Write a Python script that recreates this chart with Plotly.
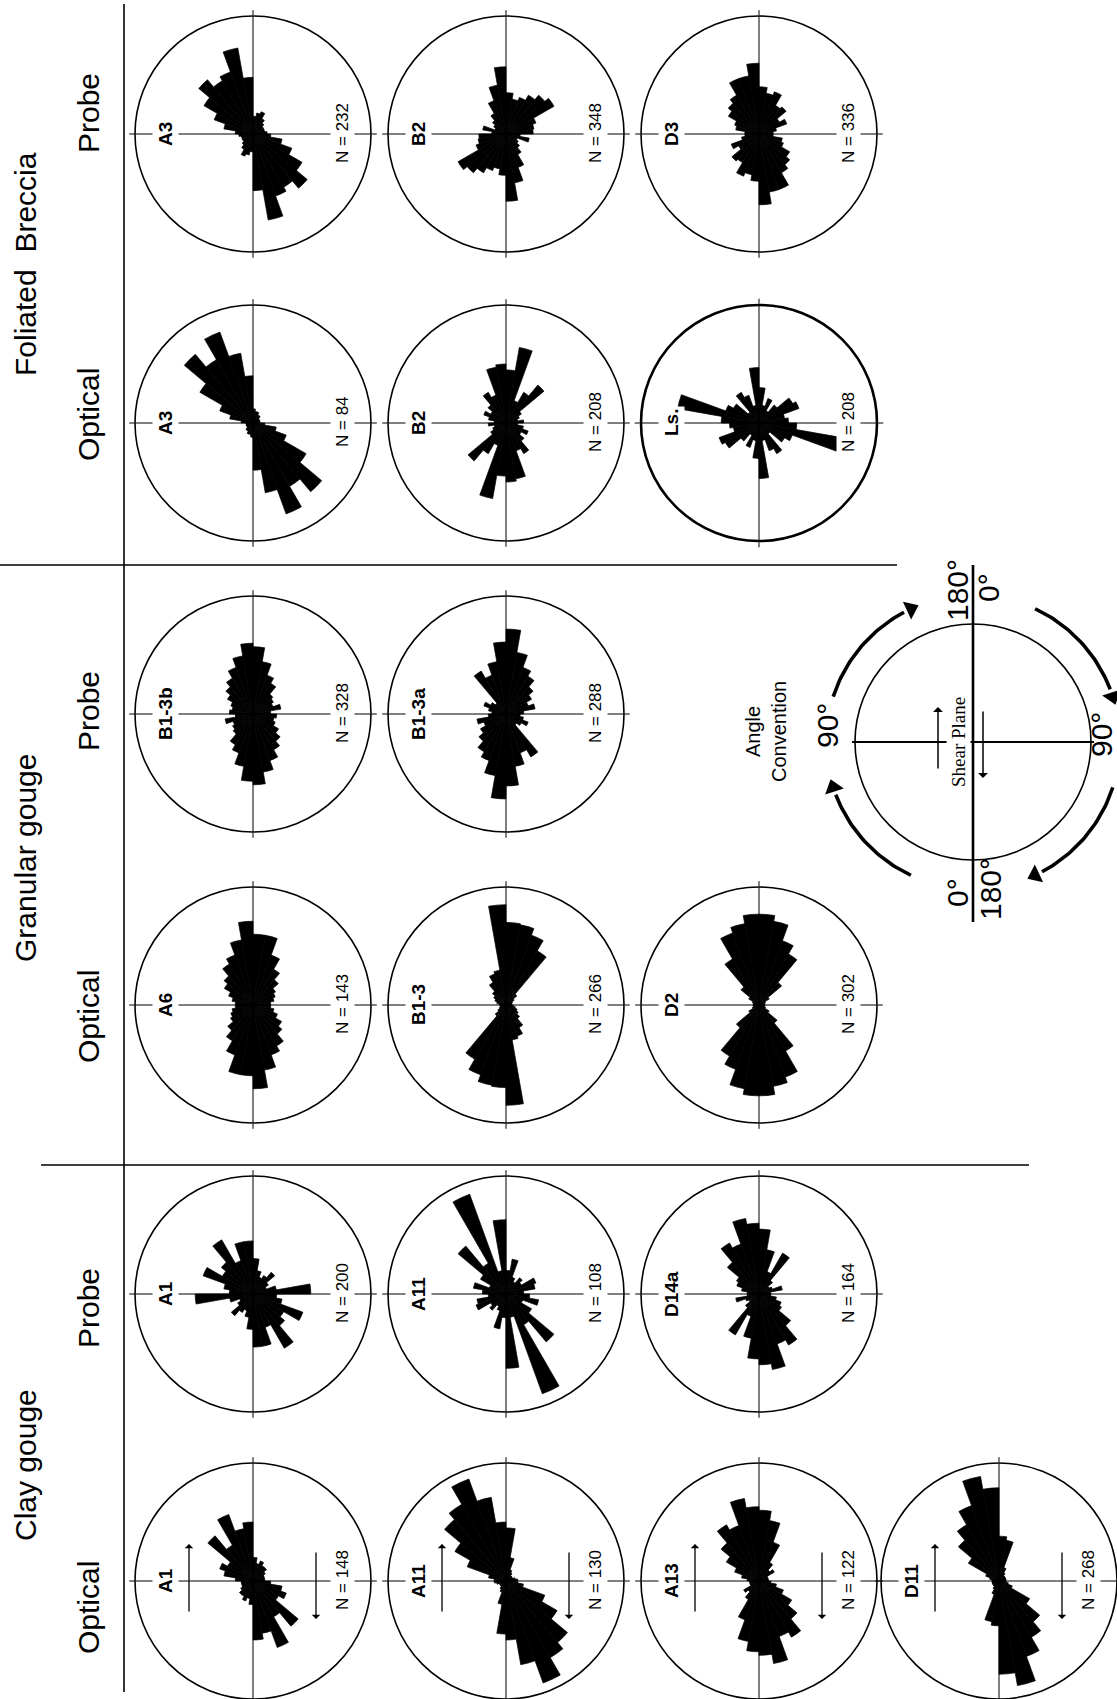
import numpy as np
import plotly.graph_objects as go

W, H = 1117, 1699

# Bin centres in degrees, clockwise from the shear plane; orientations are axial,
# so each 0-180 histogram is repeated for 180-360.
bin_centers = list(range(5, 180, 10))

# Relative bin frequencies (fraction of circle radius), bins 0-10 ... 170-180
fb_probe_A3 = [0.15, 0.18, 0.20, 0.15, 0.12, 0.10, 0.10, 0.10, 0.12, 0.15, 0.25, 0.35, 0.48, 0.60, 0.52, 0.56, 0.74, 0.48]
fb_probe_B2 = [0.35, 0.30, 0.33, 0.38, 0.43, 0.47, 0.27, 0.24, 0.23, 0.12, 0.20, 0.10, 0.12, 0.15, 0.20, 0.30, 0.42, 0.57]
fb_probe_D3 = [0.40, 0.35, 0.38, 0.28, 0.30, 0.20, 0.25, 0.15, 0.12, 0.12, 0.20, 0.22, 0.30, 0.34, 0.38, 0.50, 0.50, 0.60]
fb_optical_A3 = [0.12, 0.10, 0.10, 0.08, 0.08, 0.06, 0.06, 0.06, 0.06, 0.10, 0.20, 0.30, 0.52, 0.76, 0.62, 0.82, 0.60, 0.40]
fb_optical_B2 = [0.45, 0.65, 0.20, 0.30, 0.42, 0.15, 0.12, 0.10, 0.15, 0.10, 0.15, 0.20, 0.15, 0.20, 0.30, 0.25, 0.48, 0.50]
fb_optical_Ls = [0.30, 0.15, 0.22, 0.12, 0.20, 0.33, 0.36, 0.22, 0.25, 0.32, 0.70, 0.30, 0.25, 0.12, 0.30, 0.25, 0.15, 0.47]
gg_probe_B13b = [0.57, 0.45, 0.35, 0.30, 0.22, 0.20, 0.18, 0.24, 0.15, 0.20, 0.18, 0.20, 0.25, 0.30, 0.35, 0.42, 0.50, 0.60]
gg_probe_B13a = [0.72, 0.53, 0.42, 0.37, 0.30, 0.25, 0.20, 0.25, 0.15, 0.12, 0.15, 0.20, 0.15, 0.12, 0.42, 0.35, 0.45, 0.61]
gg_optical_A6 = [0.60, 0.60, 0.45, 0.35, 0.28, 0.22, 0.20, 0.18, 0.15, 0.15, 0.18, 0.22, 0.28, 0.32, 0.40, 0.45, 0.56, 0.71]
gg_optical_B13 = [0.70, 0.69, 0.63, 0.53, 0.12, 0.08, 0.06, 0.05, 0.05, 0.06, 0.08, 0.10, 0.12, 0.15, 0.22, 0.28, 0.30, 0.85]
gg_optical_D2 = [0.77, 0.72, 0.58, 0.50, 0.25, 0.10, 0.06, 0.05, 0.05, 0.05, 0.05, 0.06, 0.10, 0.20, 0.45, 0.65, 0.70, 0.77]
cg_probe_A1 = [0.30, 0.20, 0.15, 0.18, 0.24, 0.15, 0.12, 0.20, 0.49, 0.20, 0.25, 0.45, 0.30, 0.35, 0.53, 0.30, 0.45, 0.45]
cg_probe_A11 = [0.20, 0.30, 0.15, 0.12, 0.18, 0.15, 0.27, 0.25, 0.15, 0.20, 0.28, 0.15, 0.25, 0.53, 0.30, 0.90, 0.20, 0.63]
cg_probe_D14a = [0.55, 0.38, 0.20, 0.40, 0.15, 0.10, 0.12, 0.20, 0.10, 0.10, 0.15, 0.20, 0.22, 0.35, 0.50, 0.45, 0.65, 0.60]
cg_optical_A1 = [0.20, 0.15, 0.18, 0.15, 0.15, 0.12, 0.10, 0.10, 0.10, 0.15, 0.25, 0.30, 0.25, 0.50, 0.35, 0.60, 0.45, 0.50]
cg_optical_A11 = [0.45, 0.20, 0.10, 0.08, 0.06, 0.06, 0.06, 0.08, 0.10, 0.10, 0.15, 0.35, 0.50, 0.68, 0.75, 0.92, 0.72, 0.50]
cg_optical_A13 = [0.60, 0.52, 0.35, 0.18, 0.12, 0.15, 0.08, 0.08, 0.08, 0.10, 0.15, 0.22, 0.32, 0.42, 0.55, 0.50, 0.71, 0.63]
cg_optical_D11 = [0.38, 0.35, 0.12, 0.08, 0.06, 0.06, 0.06, 0.06, 0.06, 0.06, 0.08, 0.12, 0.30, 0.45, 0.55, 0.68, 0.90, 0.79]

# Sample names and counts
sample_names = ["A3", "B2", "D3", "A3", "B2", "Ls.", "B1-3b", "B1-3a", "A6", "B1-3", "D2",
                "A1", "A11", "D14a", "A1", "A11", "A13", "D11"]
sample_counts = [232, 348, 336, 84, 208, 208, 328, 288, 143, 266, 302,
                 200, 108, 164, 148, 130, 122, 268]
rose_values = [fb_probe_A3, fb_probe_B2, fb_probe_D3, fb_optical_A3, fb_optical_B2, fb_optical_Ls,
               gg_probe_B13b, gg_probe_B13a, gg_optical_A6, gg_optical_B13, gg_optical_D2,
               cg_probe_A1, cg_probe_A11, cg_probe_D14a, cg_optical_A1, cg_optical_A11,
               cg_optical_A13, cg_optical_D11]

# Page layout (pixels): column x-centres and row y-centres of the rose circles
COLS = [253, 506, 759, 999]
ROWS = [134, 423, 714, 1005, 1294, 1581]
grid_pos = [(0, 0), (1, 0), (2, 0), (0, 1), (1, 1), (2, 1), (0, 2), (1, 2), (0, 3), (1, 3), (2, 3),
            (0, 4), (1, 4), (2, 4), (0, 5), (1, 5), (2, 5), (3, 5)]
shear_arrows = [False] * 14 + [True] * 4
heavy_circle = [False] * 5 + [True] + [False] * 12
R = 118

SANS = "Liberation Sans, Arial, Helvetica, sans-serif"
NARROW = "Liberation Sans Narrow, Arial Narrow, Liberation Sans, Arial, sans-serif"
SERIF = "Liberation Serif, Times New Roman, serif"

fig = go.Figure()
annotations = []
shapes = []
polars = {}

theta_full = bin_centers + [b + 180 for b in bin_centers]

for i, vals in enumerate(rose_values):
    ci, ri = grid_pos[i]
    cx, cy = COLS[ci], ROWS[ri]
    sub = "polar" if i == 0 else f"polar{i + 1}"
    fig.add_trace(go.Barpolar(
        theta=theta_full, r=list(vals) + list(vals), width=[10] * 36,
        marker=dict(color="black", line=dict(color="black", width=0.7)),
        subplot=sub, hoverinfo="skip", showlegend=False))
    x0 = max(0.0, (cx - R) / W)
    x1 = min(1.0, (cx + R) / W)
    y0 = max(0.0, 1 - (cy + R) / H)
    y1 = min(1.0, 1 - (cy - R) / H)
    polars[sub] = dict(
        domain=dict(x=[x0, x1], y=[y0, y1]),
        bgcolor="rgba(0,0,0,0)",
        bargap=0,
        radialaxis=dict(visible=False, range=[0, 1], showgrid=False),
        angularaxis=dict(rotation=90, direction="clockwise", tickmode="linear", tick0=0, dtick=90,
                         showgrid=True, gridcolor="black", gridwidth=1.2,
                         ticks="outside", ticklen=5, tickwidth=1.2, tickcolor="black",
                         showticklabels=False, showline=True, linecolor="black",
                         linewidth=2.6 if heavy_circle[i] else 1.6),
    )
    # sample name and count written along the horizontal diameter
    annotations.append(dict(x=cx - 88, y=cy, xref="x", yref="y", text=sample_names[i],
                            textangle=-90, showarrow=False, bgcolor="white", borderpad=2,
                            font=dict(family=SANS, size=19, color="black", weight="bold")))
    annotations.append(dict(x=cx + 89, y=cy - 1, xref="x", yref="y", text=f"N = {sample_counts[i]}",
                            textangle=-90, showarrow=False, bgcolor="white", borderpad=2,
                            font=dict(family=NARROW, size=17, color="black")))
    if shear_arrows[i]:
        annotations.append(dict(x=cx - 64, y=cy - 37, xref="x", yref="y", ax=0, ay=69, text="",
                                showarrow=True, arrowhead=1, arrowsize=1.1, arrowwidth=1.3,
                                arrowcolor="black", standoff=0))
        annotations.append(dict(x=cx + 63, y=cy + 38, xref="x", yref="y", ax=0, ay=-68, text="",
                                showarrow=True, arrowhead=1, arrowsize=1.1, arrowwidth=1.3,
                                arrowcolor="black", standoff=0))

# Frame lines separating the gouge/breccia groups
line_style = dict(color="black", width=1.6)
shapes.append(dict(type="line", xref="x", yref="y", x0=124, x1=124, y0=4, y1=1692, line=line_style))
shapes.append(dict(type="line", xref="x", yref="y", x0=0, x1=897, y0=565, y1=565, line=line_style))
shapes.append(dict(type="line", xref="x", yref="y", x0=41, x1=1029, y0=1165, y1=1165, line=line_style))

# Group and method headings
headings = [("Foliated  Breccia", 25, 264), ("Probe", 88, 113), ("Optical", 88, 415),
            ("Granular gouge", 25, 858), ("Probe", 88, 711), ("Optical", 88, 1017),
            ("Clay gouge", 25, 1465), ("Probe", 88, 1308), ("Optical", 88, 1608)]
for txt, x, y in headings:
    annotations.append(dict(x=x, y=y, xref="x", yref="y", text=txt, textangle=-90, showarrow=False,
                            font=dict(family=SANS, size=30, color="black")))

# Angle convention diagram
acx, acy, acr = 973, 742, 118
shapes.append(dict(type="circle", xref="x", yref="y", x0=acx - acr, x1=acx + acr,
                   y0=acy - acr, y1=acy + acr, line=dict(color="black", width=1.6)))
shapes.append(dict(type="line", xref="x", yref="y", x0=acx, x1=acx, y0=565, y1=922,
                   line=dict(color="black", width=2.6)))
shapes.append(dict(type="line", xref="x", yref="y", x0=acx - acr - 3, x1=acx + acr + 3, y0=acy, y1=acy,
                   line=dict(color="black", width=2)))

arc_r = 147
arc_spans = [(288, 335), (25, 72), (108, 155), (205, 252)]
arc_x, arc_y, head_x, head_y, head_ang = [], [], [], [], []
for a0, a1 in arc_spans:
    ph = np.radians(np.linspace(a0, a1 - 3, 40))
    arc_x += list(acx + arc_r * np.sin(ph)) + [None]
    arc_y += list(acy - arc_r * np.cos(ph)) + [None]
    pe = np.radians(a1)
    head_x.append(acx + arc_r * np.sin(pe))
    head_y.append(acy - arc_r * np.cos(pe))
    head_ang.append(a1 + 90)
fig.add_trace(go.Scatter(x=arc_x, y=arc_y, mode="lines", line=dict(color="black", width=3.6),
                         hoverinfo="skip", showlegend=False, xaxis="x", yaxis="y"))
fig.add_trace(go.Scatter(x=head_x, y=head_y, mode="markers", hoverinfo="skip", showlegend=False,
                         marker=dict(symbol="triangle-up", size=17, color="black", angle=head_ang,
                                     line=dict(width=0)),
                         xaxis="x", yaxis="y"))

conv_texts = [("90°", 827, 726, 30), ("90°", 1101, 735, 30),
              ("180°", 957, 590, 30), ("0°", 988, 588, 30),
              ("0°", 957, 893, 30), ("180°", 990, 889, 30)]
for txt, x, y, s in conv_texts:
    annotations.append(dict(x=x, y=y, xref="x", yref="y", text=txt, textangle=-90, showarrow=False,
                            font=dict(family=SANS, size=s, color="black")))
annotations.append(dict(x=766, y=732, xref="x", yref="y", text="Angle<br>Convention", textangle=-90,
                        showarrow=False, font=dict(family=SANS, size=20, color="black")))
annotations.append(dict(x=958, y=742, xref="x", yref="y", text="Shear Plane", textangle=-90,
                        showarrow=False, bgcolor="white", borderpad=1,
                        font=dict(family=SERIF, size=19, color="black")))
annotations.append(dict(x=938, y=707, xref="x", yref="y", ax=0, ay=63, text="", showarrow=True,
                        arrowhead=1, arrowsize=1.1, arrowwidth=1.5, arrowcolor="black", standoff=0))
annotations.append(dict(x=983, y=778, xref="x", yref="y", ax=0, ay=-68, text="", showarrow=True,
                        arrowhead=1, arrowsize=1.1, arrowwidth=1.5, arrowcolor="black", standoff=0))

fig.update_layout(
    width=W, height=H,
    margin=dict(l=0, r=0, t=0, b=0),
    paper_bgcolor="white", plot_bgcolor="rgba(0,0,0,0)",
    xaxis=dict(range=[0, W], visible=False, fixedrange=True, domain=[0, 1]),
    yaxis=dict(range=[H, 0], visible=False, fixedrange=True, domain=[0, 1]),
    shapes=shapes, annotations=annotations,
    showlegend=False,
    **polars,
)

fig.write_html("out.html")
